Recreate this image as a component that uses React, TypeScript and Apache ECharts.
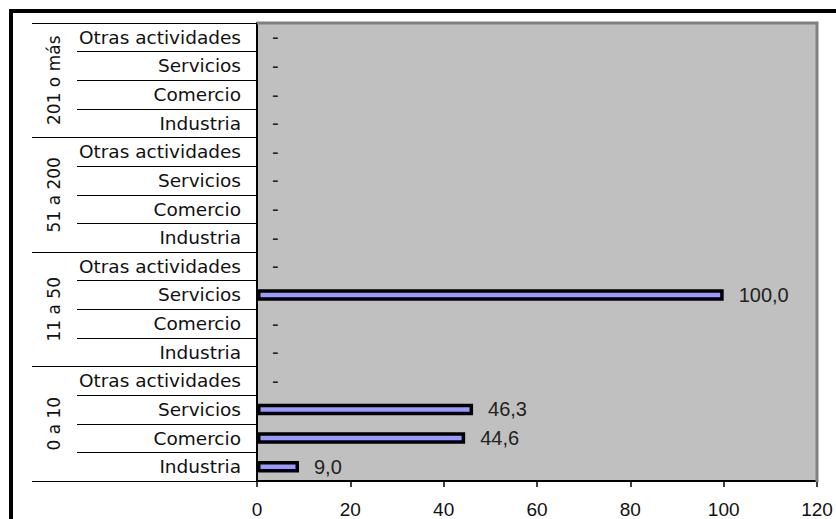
import React, { useEffect, useRef } from "react";
import * as echarts from "echarts";

// ---- data ----
const groups = ["0 a 10", "11 a 50", "51 a 200", "201 o más"];
const sectors = ["Industria", "Comercio", "Servicios", "Otras actividades"];
const values0a10 = [9.0, 44.6, 46.3, 0];
const values11a50 = [0, 0, 100.0, 0];
const values51a200 = [0, 0, 0, 0];
const values201omas = [0, 0, 0, 0];
const xTicks = { min: 0, max: 120, interval: 20 };

const groupValues = [values0a10, values11a50, values51a200, values201omas];
const categoryKeys: string[] = [];
const allValues: number[] = [];
groups.forEach((g, gi) => {
  sectors.forEach((s, si) => {
    categoryKeys.push(g + "|" + s);
    allValues.push(groupValues[gi][si]);
  });
});

// ---- layout ----
const W = 836;
const H = 519;
const GL = 257;
const GR = 817;
const GT = 23;
const GB = 482;

export default function App() {
  const ref = useRef<HTMLDivElement>(null);
  useEffect(() => {
    if (!ref.current) return;
    const chart = echarts.init(ref.current, null, { renderer: "svg" });
    chart.setOption({
      animation: false,
      backgroundColor: "#ffffff",
      grid: {
        left: GL,
        top: GT,
        width: GR - GL,
        height: GB - GT,
        show: true,
        backgroundColor: "#C0C0C0",
        borderWidth: 0,
      },
      xAxis: {
        type: "value",
        min: xTicks.min,
        max: xTicks.max,
        interval: xTicks.interval,
        axisLine: { show: true, onZero: false, lineStyle: { color: "#000", width: 2 } },
        axisTick: { show: true, length: 6, lineStyle: { color: "#000", width: 1.5 } },
        splitLine: { show: false },
        axisLabel: {
          margin: 19,
          fontFamily: "Liberation Sans, Arial, sans-serif",
          fontSize: 19,
          color: "#111",
        },
      },
      yAxis: [
        {
          type: "category",
          data: categoryKeys,
          position: "left",
          axisLine: { show: true, lineStyle: { color: "#000", width: 2 } },
          axisTick: {
            show: true,
            interval: 0,
            length: 180,
            lineStyle: { color: "#000", width: 1 },
          },
          splitLine: { show: false },
          axisLabel: {
            interval: 0,
            margin: 16,
            fontFamily: "DejaVu Sans, Verdana, sans-serif",
            fontSize: 18.5,
            color: "#111",
            formatter: (v: string) => v.split("|")[1],
          },
        },
        {
          type: "category",
          data: groups,
          position: "left",
          axisLine: { show: false },
          axisTick: {
            show: true,
            interval: 0,
            length: 225,
            lineStyle: { color: "#000", width: 1 },
          },
          splitLine: { show: false },
          axisLabel: {
            interval: 0,
            rotate: 90,
            margin: 195,
            fontFamily: "DejaVu Sans, Verdana, sans-serif",
            fontSize: 17,
            color: "#111",
          },
        },
      ],
      series: [
        {
          type: "bar",
          yAxisIndex: 0,
          barWidth: 11.5,
          data: allValues.map((v) => ({
            value: v,
            itemStyle: {
              color: "#9999FF",
              borderColor: "#000",
              borderWidth: v === 0 ? 0 : 3.5,
            },
          })),
          label: {
            show: true,
            position: "right",
            distance: 15,
            fontFamily: "Liberation Sans, Arial, sans-serif",
            fontSize: 20,
            color: "#222",
            formatter: (p: any) =>
              p.value === 0 ? "-" : Number(p.value).toFixed(1).replace(".", ","),
          },
        },
      ],
      graphic: [
        {
          type: "polyline",
          silent: true,
          z: 1,
          shape: { points: [[GL, GT], [GR, GT], [GR, GB]] },
          style: { stroke: "#808080", lineWidth: 3, fill: null },
        },
        {
          type: "rect",
          silent: true,
          z: 100,
          shape: { x: 11, y: 11, width: W + 100, height: H + 100 },
          style: { fill: null, stroke: "#000", lineWidth: 4 },
        },
      ],
    });
    return () => chart.dispose();
  }, []);
  return (
    <div
      ref={ref}
      style={{ position: "absolute", left: 0, top: 0, width: W, height: H }}
    />
  );
}
